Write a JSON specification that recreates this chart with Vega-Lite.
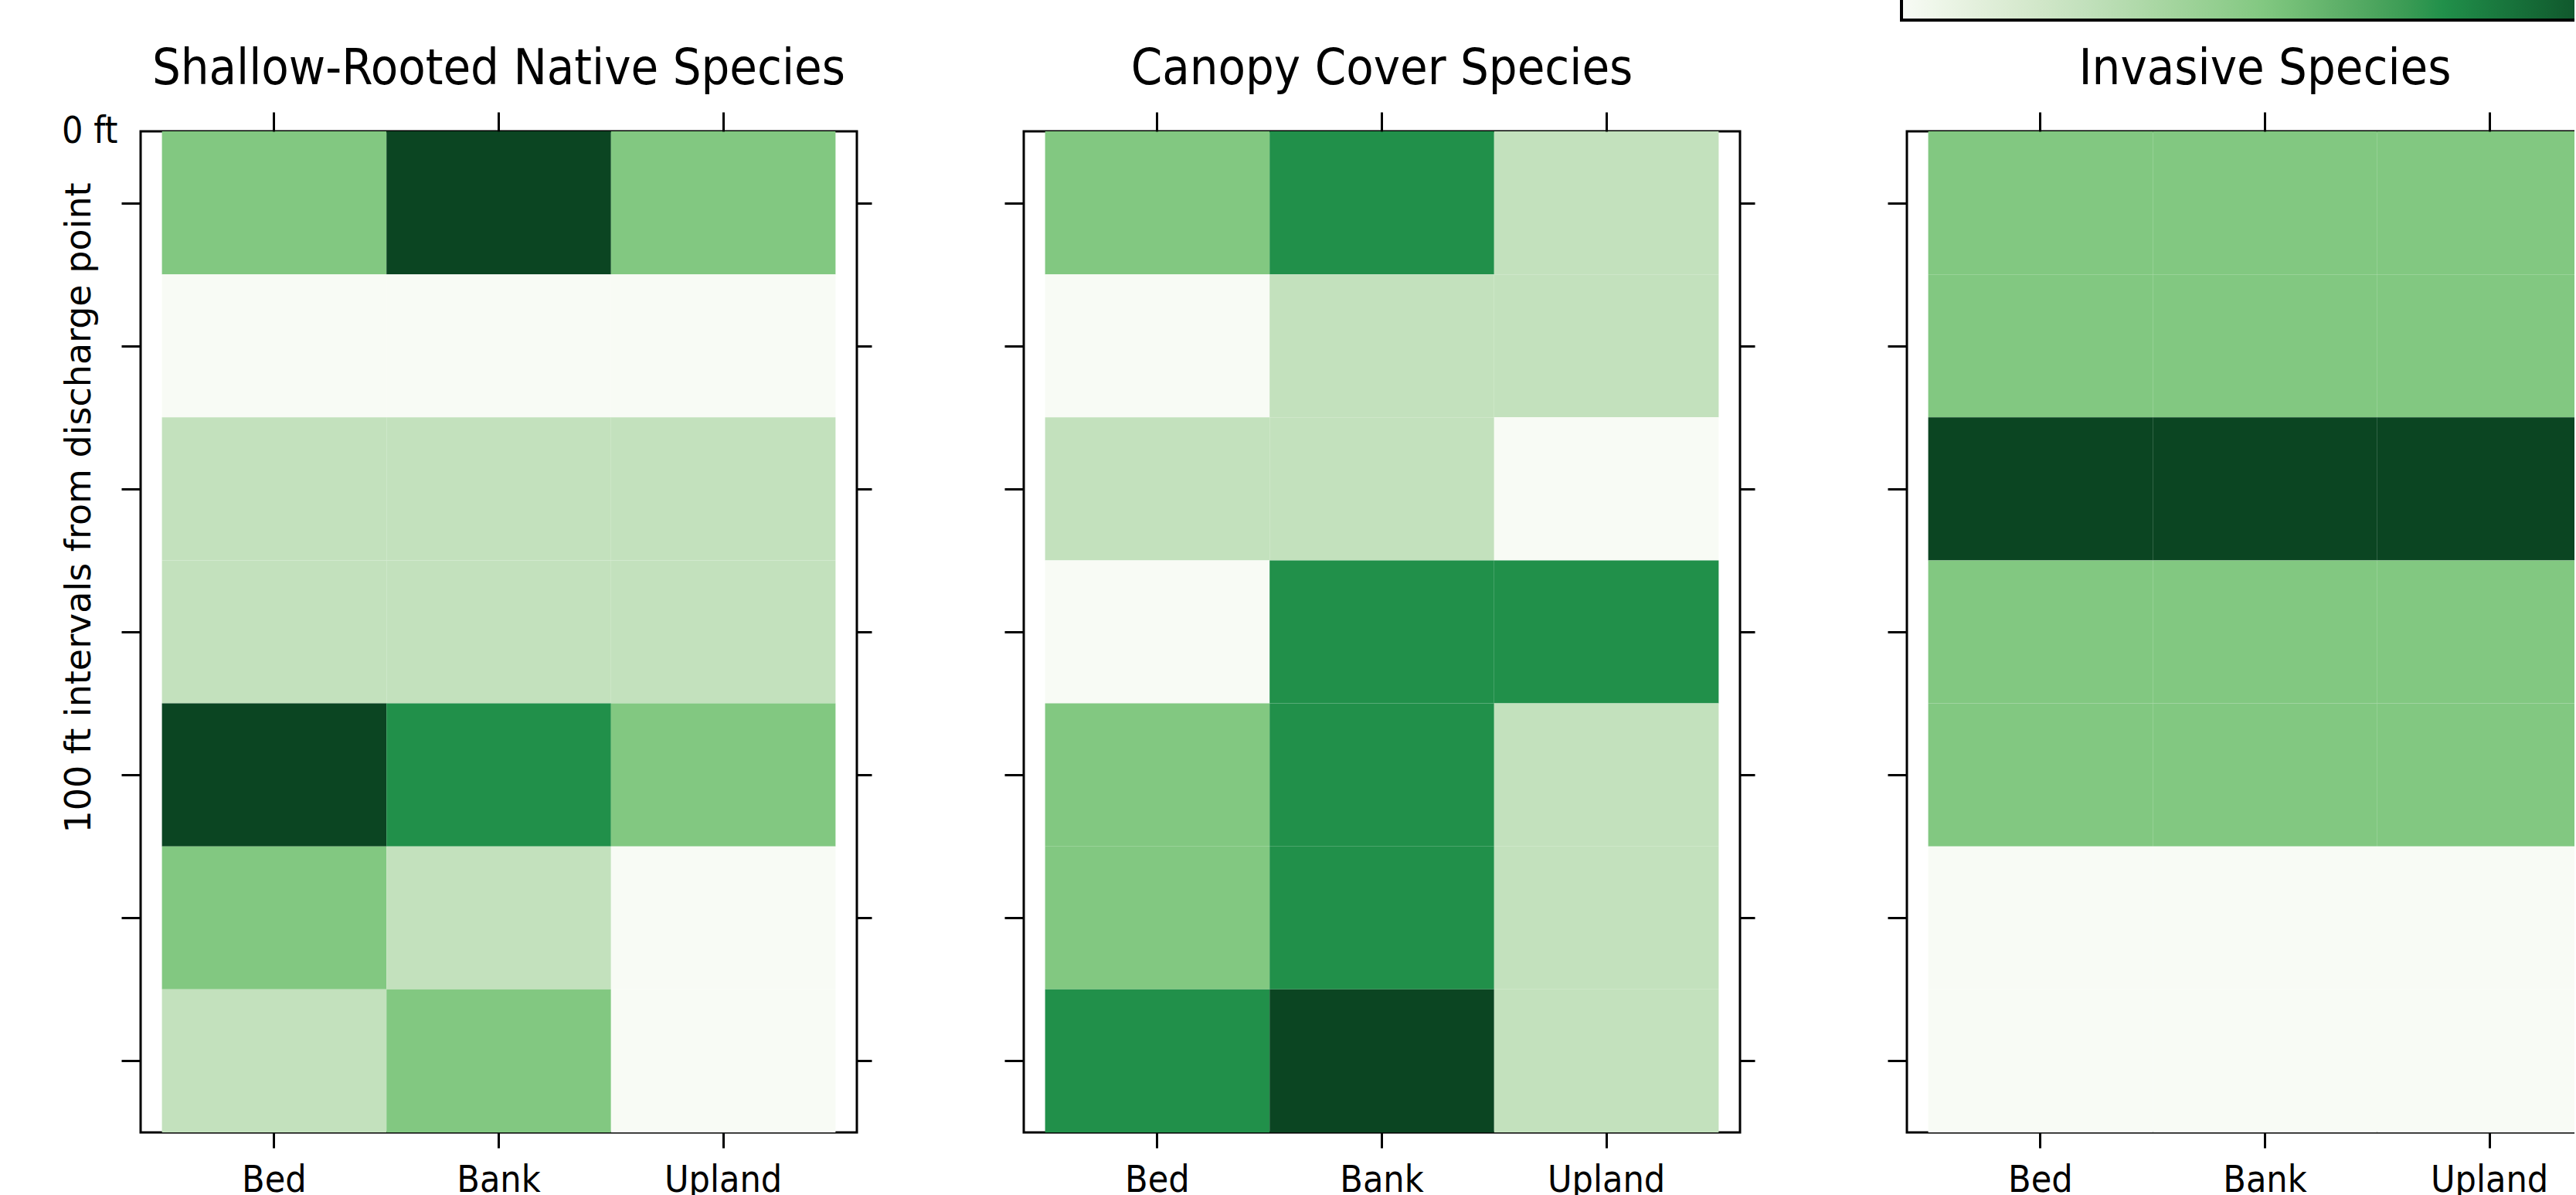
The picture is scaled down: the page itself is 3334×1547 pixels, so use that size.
{
  "$schema": "https://vega.github.io/schema/vega-lite/v6.json",
  "background": "white",
  "padding": {"left": 77, "top": -38, "right": -85, "bottom": -4},
  "bounds": "flush",
  "spacing": 216,
  "config": {
    "font": "DejaVu Sans Condensed, DejaVu Sans, sans-serif",
    "view": {"stroke": "black", "strokeWidth": 3},
    "axis": {
      "domain": false,
      "grid": false,
      "tickColor": "black",
      "tickWidth": 3,
      "labelFont": "DejaVu Sans Condensed, DejaVu Sans, sans-serif",
      "labelFontSize": 48,
      "labelColor": "black",
      "titleFont": "DejaVu Sans, sans-serif",
      "titleFontSize": 46,
      "titleFontWeight": "normal",
      "titleColor": "black"
    },
    "title": {
      "font": "DejaVu Sans Condensed, DejaVu Sans, sans-serif",
      "fontSize": 64.5,
      "fontWeight": "normal",
      "color": "black",
      "baseline": "alphabetic",
      "offset": 21,
      "anchor": "middle"
    },
    "legend": {
      "orient": "none",
      "direction": "horizontal",
      "legendX": 2279,
      "legendY": -208,
      "gradientLength": 935,
      "gradientThickness": 64,
      "gradientStrokeColor": "black",
      "gradientStrokeWidth": 4,
      "title": null
    }
  },
  "datasets": {
    "cells": [
      {"group": "Shallow-Rooted Native Species", "zone": "Bed", "from_ft": 0, "to_ft": 100, "level": 2},
      {"group": "Shallow-Rooted Native Species", "zone": "Bank", "from_ft": 0, "to_ft": 100, "level": 4},
      {"group": "Shallow-Rooted Native Species", "zone": "Upland", "from_ft": 0, "to_ft": 100, "level": 2},
      {"group": "Shallow-Rooted Native Species", "zone": "Bed", "from_ft": 100, "to_ft": 200, "level": 0},
      {"group": "Shallow-Rooted Native Species", "zone": "Bank", "from_ft": 100, "to_ft": 200, "level": 0},
      {"group": "Shallow-Rooted Native Species", "zone": "Upland", "from_ft": 100, "to_ft": 200, "level": 0},
      {"group": "Shallow-Rooted Native Species", "zone": "Bed", "from_ft": 200, "to_ft": 300, "level": 1},
      {"group": "Shallow-Rooted Native Species", "zone": "Bank", "from_ft": 200, "to_ft": 300, "level": 1},
      {"group": "Shallow-Rooted Native Species", "zone": "Upland", "from_ft": 200, "to_ft": 300, "level": 1},
      {"group": "Shallow-Rooted Native Species", "zone": "Bed", "from_ft": 300, "to_ft": 400, "level": 1},
      {"group": "Shallow-Rooted Native Species", "zone": "Bank", "from_ft": 300, "to_ft": 400, "level": 1},
      {"group": "Shallow-Rooted Native Species", "zone": "Upland", "from_ft": 300, "to_ft": 400, "level": 1},
      {"group": "Shallow-Rooted Native Species", "zone": "Bed", "from_ft": 400, "to_ft": 500, "level": 4},
      {"group": "Shallow-Rooted Native Species", "zone": "Bank", "from_ft": 400, "to_ft": 500, "level": 3},
      {"group": "Shallow-Rooted Native Species", "zone": "Upland", "from_ft": 400, "to_ft": 500, "level": 2},
      {"group": "Shallow-Rooted Native Species", "zone": "Bed", "from_ft": 500, "to_ft": 600, "level": 2},
      {"group": "Shallow-Rooted Native Species", "zone": "Bank", "from_ft": 500, "to_ft": 600, "level": 1},
      {"group": "Shallow-Rooted Native Species", "zone": "Upland", "from_ft": 500, "to_ft": 600, "level": 0},
      {"group": "Shallow-Rooted Native Species", "zone": "Bed", "from_ft": 600, "to_ft": 700, "level": 1},
      {"group": "Shallow-Rooted Native Species", "zone": "Bank", "from_ft": 600, "to_ft": 700, "level": 2},
      {"group": "Shallow-Rooted Native Species", "zone": "Upland", "from_ft": 600, "to_ft": 700, "level": 0},

      {"group": "Canopy Cover Species", "zone": "Bed", "from_ft": 0, "to_ft": 100, "level": 2},
      {"group": "Canopy Cover Species", "zone": "Bank", "from_ft": 0, "to_ft": 100, "level": 3},
      {"group": "Canopy Cover Species", "zone": "Upland", "from_ft": 0, "to_ft": 100, "level": 1},
      {"group": "Canopy Cover Species", "zone": "Bed", "from_ft": 100, "to_ft": 200, "level": 0},
      {"group": "Canopy Cover Species", "zone": "Bank", "from_ft": 100, "to_ft": 200, "level": 1},
      {"group": "Canopy Cover Species", "zone": "Upland", "from_ft": 100, "to_ft": 200, "level": 1},
      {"group": "Canopy Cover Species", "zone": "Bed", "from_ft": 200, "to_ft": 300, "level": 1},
      {"group": "Canopy Cover Species", "zone": "Bank", "from_ft": 200, "to_ft": 300, "level": 1},
      {"group": "Canopy Cover Species", "zone": "Upland", "from_ft": 200, "to_ft": 300, "level": 0},
      {"group": "Canopy Cover Species", "zone": "Bed", "from_ft": 300, "to_ft": 400, "level": 0},
      {"group": "Canopy Cover Species", "zone": "Bank", "from_ft": 300, "to_ft": 400, "level": 3},
      {"group": "Canopy Cover Species", "zone": "Upland", "from_ft": 300, "to_ft": 400, "level": 3},
      {"group": "Canopy Cover Species", "zone": "Bed", "from_ft": 400, "to_ft": 500, "level": 2},
      {"group": "Canopy Cover Species", "zone": "Bank", "from_ft": 400, "to_ft": 500, "level": 3},
      {"group": "Canopy Cover Species", "zone": "Upland", "from_ft": 400, "to_ft": 500, "level": 1},
      {"group": "Canopy Cover Species", "zone": "Bed", "from_ft": 500, "to_ft": 600, "level": 2},
      {"group": "Canopy Cover Species", "zone": "Bank", "from_ft": 500, "to_ft": 600, "level": 3},
      {"group": "Canopy Cover Species", "zone": "Upland", "from_ft": 500, "to_ft": 600, "level": 1},
      {"group": "Canopy Cover Species", "zone": "Bed", "from_ft": 600, "to_ft": 700, "level": 3},
      {"group": "Canopy Cover Species", "zone": "Bank", "from_ft": 600, "to_ft": 700, "level": 4},
      {"group": "Canopy Cover Species", "zone": "Upland", "from_ft": 600, "to_ft": 700, "level": 1},

      {"group": "Invasive Species", "zone": "Bed", "from_ft": 0, "to_ft": 100, "level": 2},
      {"group": "Invasive Species", "zone": "Bank", "from_ft": 0, "to_ft": 100, "level": 2},
      {"group": "Invasive Species", "zone": "Upland", "from_ft": 0, "to_ft": 100, "level": 2},
      {"group": "Invasive Species", "zone": "Bed", "from_ft": 100, "to_ft": 200, "level": 2},
      {"group": "Invasive Species", "zone": "Bank", "from_ft": 100, "to_ft": 200, "level": 2},
      {"group": "Invasive Species", "zone": "Upland", "from_ft": 100, "to_ft": 200, "level": 2},
      {"group": "Invasive Species", "zone": "Bed", "from_ft": 200, "to_ft": 300, "level": 4},
      {"group": "Invasive Species", "zone": "Bank", "from_ft": 200, "to_ft": 300, "level": 4},
      {"group": "Invasive Species", "zone": "Upland", "from_ft": 200, "to_ft": 300, "level": 4},
      {"group": "Invasive Species", "zone": "Bed", "from_ft": 300, "to_ft": 400, "level": 2},
      {"group": "Invasive Species", "zone": "Bank", "from_ft": 300, "to_ft": 400, "level": 2},
      {"group": "Invasive Species", "zone": "Upland", "from_ft": 300, "to_ft": 400, "level": 2},
      {"group": "Invasive Species", "zone": "Bed", "from_ft": 400, "to_ft": 500, "level": 2},
      {"group": "Invasive Species", "zone": "Bank", "from_ft": 400, "to_ft": 500, "level": 2},
      {"group": "Invasive Species", "zone": "Upland", "from_ft": 400, "to_ft": 500, "level": 2},
      {"group": "Invasive Species", "zone": "Bed", "from_ft": 500, "to_ft": 600, "level": 0},
      {"group": "Invasive Species", "zone": "Bank", "from_ft": 500, "to_ft": 600, "level": 0},
      {"group": "Invasive Species", "zone": "Upland", "from_ft": 500, "to_ft": 600, "level": 0},
      {"group": "Invasive Species", "zone": "Bed", "from_ft": 600, "to_ft": 700, "level": 0},
      {"group": "Invasive Species", "zone": "Bank", "from_ft": 600, "to_ft": 700, "level": 0},
      {"group": "Invasive Species", "zone": "Upland", "from_ft": 600, "to_ft": 700, "level": 0}
    ]
  },
  "resolve": {"scale": {"color": "shared"}},
  "hconcat": [
    {
      "title": "Shallow-Rooted Native Species",
      "width": 927,
      "height": 1296,
      "data": {"name": "cells"},
      "transform": [{"filter": "datum.group === 'Shallow-Rooted Native Species'"}],
      "layer": [
        {
          "mark": {"type": "rect"},
          "encoding": {
            "x": {"field": "zone", "type": "nominal", "sort": ["Bed", "Bank", "Upland"],
                  "scale": {"paddingInner": 0, "paddingOuter": 0.095},
                  "axis": {"orient": "bottom", "title": null, "labelAngle": 0, "tickSize": 20, "labelPadding": 18}},
            "y": {"field": "from_ft", "type": "quantitative",
                  "scale": {"domain": [0, 700], "reverse": true, "nice": false, "zero": false},
                  "axis": {"orient": "left", "values": [0, 50, 150, 250, 350, 450, 550, 650],
                           "labelExpr": "datum.value === 0 ? '0 ft' : ''",
                           "tickOpacity": {"condition": {"test": "datum.value === 0", "value": 0}, "value": 1},
                           "tickSize": 25, "labelPadding": 5, "labelBaseline": "middle",
                           "title": "100 ft intervals from discharge point",
                           "titleAngle": 270, "titleX": -66, "titleY": 487,
                           "titleAlign": "center", "titleBaseline": "alphabetic"}},
            "y2": {"field": "to_ft"},
            "color": {"field": "level", "type": "quantitative",
                      "scale": {"domain": [0, 1, 2, 3, 4], "range": ["#f8fbf5", "#c3e1bd", "#82c881", "#21904a", "#0b4522"]},
                      "legend": {"values": [0, 1, 2, 3, 4], "labelExpr": "''"}}
          }
        },
        {
          "mark": {"type": "rect", "opacity": 0},
          "encoding": {
            "x": {"field": "zone", "type": "nominal", "sort": ["Bed", "Bank", "Upland"],
                  "axis": {"orient": "top", "title": null, "labels": false, "tickSize": 25}},
            "y": {"field": "from_ft", "type": "quantitative",
                  "axis": {"orient": "right", "values": [50, 150, 250, 350, 450, 550, 650], "labels": false, "title": null, "tickSize": 19}},
            "y2": {"field": "to_ft"}
          }
        }
      ]
    },
    {
      "title": "Canopy Cover Species",
      "width": 927,
      "height": 1296,
      "data": {"name": "cells"},
      "transform": [{"filter": "datum.group === 'Canopy Cover Species'"}],
      "layer": [
        {
          "mark": {"type": "rect"},
          "encoding": {
            "x": {"field": "zone", "type": "nominal", "sort": ["Bed", "Bank", "Upland"],
                  "scale": {"paddingInner": 0, "paddingOuter": 0.095},
                  "axis": {"orient": "bottom", "title": null, "labelAngle": 0, "tickSize": 20, "labelPadding": 18}},
            "y": {"field": "from_ft", "type": "quantitative",
                  "scale": {"domain": [0, 700], "reverse": true, "nice": false, "zero": false},
                  "axis": {"orient": "left", "values": [50, 150, 250, 350, 450, 550, 650], "labels": false, "title": null, "tickSize": 25}},
            "y2": {"field": "to_ft"},
            "color": {"field": "level", "type": "quantitative",
                      "scale": {"domain": [0, 1, 2, 3, 4], "range": ["#f8fbf5", "#c3e1bd", "#82c881", "#21904a", "#0b4522"]},
                      "legend": {"values": [0, 1, 2, 3, 4], "labelExpr": "''"}}
          }
        },
        {
          "mark": {"type": "rect", "opacity": 0},
          "encoding": {
            "x": {"field": "zone", "type": "nominal", "sort": ["Bed", "Bank", "Upland"],
                  "axis": {"orient": "top", "title": null, "labels": false, "tickSize": 25}},
            "y": {"field": "from_ft", "type": "quantitative",
                  "axis": {"orient": "right", "values": [50, 150, 250, 350, 450, 550, 650], "labels": false, "title": null, "tickSize": 19}},
            "y2": {"field": "to_ft"}
          }
        }
      ]
    },
    {
      "title": "Invasive Species",
      "width": 927,
      "height": 1296,
      "data": {"name": "cells"},
      "transform": [{"filter": "datum.group === 'Invasive Species'"}],
      "layer": [
        {
          "mark": {"type": "rect"},
          "encoding": {
            "x": {"field": "zone", "type": "nominal", "sort": ["Bed", "Bank", "Upland"],
                  "scale": {"paddingInner": 0, "paddingOuter": 0.095},
                  "axis": {"orient": "bottom", "title": null, "labelAngle": 0, "tickSize": 20, "labelPadding": 18}},
            "y": {"field": "from_ft", "type": "quantitative",
                  "scale": {"domain": [0, 700], "reverse": true, "nice": false, "zero": false},
                  "axis": {"orient": "left", "values": [50, 150, 250, 350, 450, 550, 650], "labels": false, "title": null, "tickSize": 25}},
            "y2": {"field": "to_ft"},
            "color": {"field": "level", "type": "quantitative",
                      "scale": {"domain": [0, 1, 2, 3, 4], "range": ["#f8fbf5", "#c3e1bd", "#82c881", "#21904a", "#0b4522"]},
                      "legend": {"values": [0, 1, 2, 3, 4], "labelExpr": "''"}}
          }
        },
        {
          "mark": {"type": "rect", "opacity": 0},
          "encoding": {
            "x": {"field": "zone", "type": "nominal", "sort": ["Bed", "Bank", "Upland"],
                  "axis": {"orient": "top", "title": null, "labels": false, "tickSize": 25}},
            "y": {"field": "from_ft", "type": "quantitative",
                  "axis": {"orient": "right", "values": [50, 150, 250, 350, 450, 550, 650], "labels": false, "title": null, "tickSize": 19}},
            "y2": {"field": "to_ft"}
          }
        }
      ]
    }
  ]
}
